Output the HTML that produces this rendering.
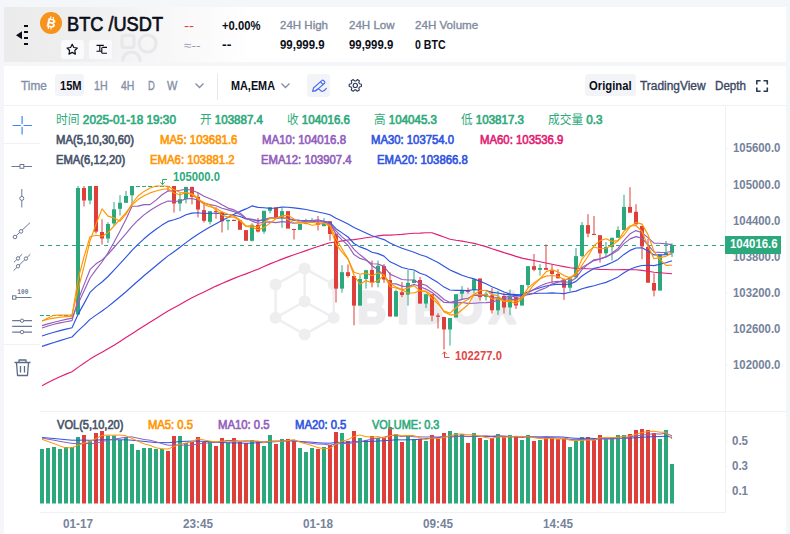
<!DOCTYPE html>
<html lang="en">
<head>
<meta charset="utf-8">
<title>BTC/USDT</title>
<style>
*{box-sizing:border-box}
html,body{margin:0;padding:0}
body{width:790px;height:534px;overflow:hidden;background:#f5f6fa;position:relative;font-family:"Liberation Sans","Noto Sans CJK SC",sans-serif}
.hdr{position:absolute;left:4px;top:7px;width:782px;height:54.5px;background:linear-gradient(90deg,#ebebec 0,#eeeeef 70px,#f7f7f8 160px,#ffffff 250px)}
.tb{position:absolute;left:4px;top:66px;width:782px;height:40px;background:#fff}
.chart{position:absolute;left:4px;top:106px;width:782px;height:428px;background:#fff}
.pill{position:absolute;background:#f3f4f8;border-radius:3px}
.wbox{position:absolute;background:#fafafc;border-radius:3px}
.t{position:absolute;white-space:nowrap;line-height:1;transform-origin:0 0}
.t i{font-style:normal;font-weight:400;-webkit-text-stroke:0}
svg.ov{position:absolute;left:0;top:0}
</style>
</head>
<body>
<div class="hdr"></div>
<div class="tb"></div>
<div class="chart"></div>
<div class="wbox" style="left:61px;top:40px;width:23px;height:19px"></div>
<div class="wbox" style="left:89px;top:40px;width:23px;height:19px"></div>
<div class="pill" style="left:55.4px;top:74.4px;width:28.2px;height:22px"></div>
<div class="pill" style="left:307px;top:74px;width:23.4px;height:23px"></div>
<div class="pill" style="left:585px;top:74.4px;width:50.6px;height:22px"></div>
<svg class="ov" width="790" height="534" viewBox="0 0 790 534">
<!-- header decoration -->
<g fill="none" stroke="#e8e8eb" stroke-width="3.200" clip-path="url(#hc)">
<rect x="122" y="35.500" width="12" height="12" rx="2"/>
<circle cx="147.600" cy="43.500" r="8.500"/><circle cx="131.400" cy="60.500" r="8.500"/>
</g>
<clipPath id="hc"><rect x="4" y="7" width="782" height="54.500"/></clipPath>
<!-- back icon -->
<path d="M16 35.200L22 31.200V39.200Z" fill="#0b0e18"/>
<g fill="#0b0e18"><rect x="24" y="25" width="4" height="2"/><rect x="24" y="31" width="4" height="2"/><rect x="24" y="37" width="4" height="2"/><rect x="24" y="43" width="4" height="2"/></g>
<!-- bitcoin -->
<circle cx="51" cy="23" r="11" fill="#f7931a"/>
<g transform="rotate(13 51 23)"><text x="51.300" y="27.400" text-anchor="middle" font-family="Liberation Sans,sans-serif" font-weight="700" font-size="12.500" fill="#fff">B</text>
<path d="M49.500 16.600v2M52.200 16.600v2M49.500 27.300v2M52.200 27.300v2" stroke="#fff" stroke-width="1.200"/></g>
<!-- star -->
<path d="M72.2 44.3L73.8 47.5L77.3 48.0L74.8 50.5L75.4 54.1L72.2 52.4L69.0 54.1L69.6 50.5L67.1 48.0L70.6 47.5Z" fill="none" stroke="#0b0e18" stroke-width="1.200" stroke-linejoin="round"/>
<!-- transfer icon -->
<g stroke="#0b0e18" stroke-width="1.100" fill="none"><path d="M96.500 45.400h7.300M96.500 51.200h5M99.800 45.400v5.800M102.300 47.400h4.700M101.800 53.200h5.200M101.800 47.400v5.800"/></g>
<!-- chevrons -->
<path d="M195.500 83.500l4 4 4-4" fill="none" stroke="#8390a8" stroke-width="1.400"/>
<path d="M281.500 83.500l4 4 4-4" fill="none" stroke="#8390a8" stroke-width="1.400"/>
<line x1="217.500" y1="74" x2="217.500" y2="100" stroke="#e6e8ee"/>
<!-- pen -->
<g fill="none" stroke="#4a6cf0" stroke-width="1.150" stroke-linejoin="round" stroke-linecap="round"><path d="M312.600 91.400l.900-3.400 8.300-7.400a1.300 1.300 0 0 1 1.800 0l.900.900a1.300 1.300 0 0 1 0 1.800l-8.400 7.300z"/><path d="M320.400 81.800l2.600 2.600"/><path d="M315.500 90.600c1.800-1.600 3.300-2.100 4.200-1s1.300 2.200 3 1.700 2.700-1.600 3.600-2.900"/></g>
<!-- gear -->
<g fill="none" stroke="#2c3853" stroke-width="1.100" stroke-linejoin="round"><circle cx="355.3" cy="85.4" r="2.100"/><path d="M361.39 84.22L361.39 86.58L359.50 87.01L358.80 88.23L359.37 90.08L357.32 91.26L356.00 89.84L354.60 89.84L353.28 91.26L351.23 90.08L351.80 88.23L351.10 87.01L349.21 86.58L349.21 84.22L351.10 83.79L351.80 82.57L351.23 80.72L353.28 79.54L354.60 80.96L356.00 80.96L357.32 79.54L359.37 80.72L358.80 82.57L359.50 83.79Z"/></g>
<!-- fullscreen -->
<g fill="none" stroke="#2c3853" stroke-width="1.600" stroke-linejoin="round"><path d="M756.800 84.500v-3.800h3.800M763.500 80.700h3.800v3.800M767.300 87.400v3.800h-3.800M760.600 91.200h-3.800v-3.800"/></g>
<!-- left tool icons -->
<g stroke="#3d85ff" stroke-width="1.200"><path d="M22.100 116v8.100M22.100 126.800v7.800M12.600 125.500h8.300M23.600 125.500h8.300"/></g>
<g stroke="#6b7a94" stroke-width="1" fill="#fff">
<path d="M11.500 166.500h20.500"/><rect x="20" y="164.500" width="3.800" height="3.800"/>
<path d="M21.800 189v18.500"/><circle cx="21.800" cy="198.400" r="2"/>
<path d="M14 237.800L30 222.700"/><circle cx="15" cy="237" r="1.800"/><circle cx="21" cy="231.400" r="1.800"/>
<path d="M13.900 262.400L22.200 254.200M13.600 270.600L30.400 254.200"/><circle cx="18" cy="258.400" r="1.700"/><circle cx="25.900" cy="258.600" r="1.700"/><circle cx="18" cy="266.200" r="1.700"/>
<path d="M15.200 297.500h16.300"/><rect x="12.500" y="295.800" width="3.400" height="3.400"/>
<path stroke-width="1.300" d="M12.200 320.700h19.800M12.200 326.400h19.800M12.200 332.100h19.800"/><circle cx="22" cy="320.700" r="1.700"/><circle cx="22" cy="332.100" r="1.700"/>
</g>
<text x="17.300" y="294.400" font-family="Liberation Mono,monospace" font-size="6.500" font-weight="700" fill="#6b7a94" textLength="11" lengthAdjust="spacingAndGlyphs">100</text>
<!-- trash -->
<g fill="none" stroke="#5b6a86" stroke-width="1.300" stroke-linejoin="round"><path d="M14.500 362.500h16M19 362.500v-2.500h7v2.500M16.500 362.500l1 13h10l1-13M20.500 366v6.500M24.500 366v6.500"/></g>

<line x1="4" y1="105.5" x2="786" y2="105.5" stroke="#eff1f5"/>
<line x1="40" y1="411.5" x2="786" y2="411.5" stroke="#eff1f5"/>
<line x1="40" y1="512.5" x2="725.5" y2="512.5" stroke="#eff1f5"/>
<line x1="725.5" y1="106" x2="725.5" y2="512.5" stroke="#eff1f5"/>
<line x1="4" y1="143.5" x2="40" y2="143.5" stroke="#eff1f5"/>
<line x1="4" y1="344.5" x2="40" y2="344.5" stroke="#eff1f5"/>
<line x1="725.5" y1="148.6" x2="728.5" y2="148.6" stroke="#f2f3f7"/>
<line x1="725.5" y1="185.8" x2="728.5" y2="185.8" stroke="#f2f3f7"/>
<line x1="725.5" y1="221.6" x2="728.5" y2="221.6" stroke="#f2f3f7"/>
<line x1="725.5" y1="257.2" x2="728.5" y2="257.2" stroke="#f2f3f7"/>
<line x1="725.5" y1="293.1" x2="728.5" y2="293.1" stroke="#f2f3f7"/>
<line x1="725.5" y1="329.5" x2="728.5" y2="329.5" stroke="#f2f3f7"/>
<line x1="725.5" y1="365.0" x2="728.5" y2="365.0" stroke="#f2f3f7"/>
<line x1="725.5" y1="441.5" x2="728.5" y2="441.5" stroke="#f2f3f7"/>
<line x1="725.5" y1="466.4" x2="728.5" y2="466.4" stroke="#f2f3f7"/>
<line x1="725.5" y1="491.4" x2="728.5" y2="491.4" stroke="#f2f3f7"/>
<g stroke="#eeeef0" stroke-width="2.4" fill="none"><polygon points="304.6,268.4 333.7,284.6 333.7,317.8 304.6,334.6 275.6,317.8 275.6,284.6"/><line x1="304.6" y1="301.5" x2="304.6" y2="268.4"/><line x1="304.6" y1="301.5" x2="333.7" y2="317.8"/><line x1="304.6" y1="301.5" x2="275.6" y2="317.8"/></g><g fill="#eeeef0"><circle cx="304.6" cy="268.4" r="6"/><circle cx="333.7" cy="284.6" r="6"/><circle cx="333.7" cy="317.8" r="6"/><circle cx="304.6" cy="334.6" r="6"/><circle cx="275.6" cy="317.8" r="6"/><circle cx="275.6" cy="284.6" r="6"/><circle cx="304.6" cy="301.5" r="6"/></g><text transform="scale(0.88 1)" x="406.4 451.6 470.8 513.3 555.8" y="323" font-family="Liberation Sans,sans-serif" font-weight="700" font-size="44.7" fill="#ececee" stroke="#ececee" stroke-width="3" stroke-linejoin="round">BIBOX</text>
<line x1="40" y1="245.5" x2="725" y2="245.5" stroke="#2ba97c" stroke-dasharray="4 4"/>
<rect x="40" y="315.0" width="4" height="1.0" fill="#2ba97c"/>
<rect x="46" y="315.0" width="4" height="1.0" fill="#2ba97c"/>
<rect x="52" y="315.0" width="4" height="1.0" fill="#2ba97c"/>
<rect x="58" y="315.0" width="4" height="1.0" fill="#2ba97c"/>
<rect x="64" y="315.0" width="4" height="1.0" fill="#2ba97c"/>
<rect x="70" y="315.0" width="4" height="1.0" fill="#2ba97c"/>
<line x1="78" y1="186.0" x2="78" y2="314.5" stroke="#2ba97c" stroke-width="1"/>
<rect x="76" y="188.0" width="4" height="126.5" fill="#2ba97c"/>
<line x1="84" y1="186.0" x2="84" y2="206.5" stroke="#de3f3b" stroke-width="1"/>
<rect x="82" y="188.0" width="4" height="12.5" fill="#de3f3b"/>
<line x1="90" y1="186.0" x2="90" y2="204.3" stroke="#2ba97c" stroke-width="1"/>
<rect x="88" y="186.0" width="4" height="14.5" fill="#2ba97c"/>
<line x1="96" y1="186.0" x2="96" y2="233.5" stroke="#de3f3b" stroke-width="1"/>
<rect x="94" y="186.0" width="4" height="45.6" fill="#de3f3b"/>
<line x1="102" y1="219.2" x2="102" y2="244.6" stroke="#de3f3b" stroke-width="1"/>
<rect x="100" y="232.0" width="4" height="6.5" fill="#de3f3b"/>
<line x1="108" y1="222.2" x2="108" y2="243.0" stroke="#2ba97c" stroke-width="1"/>
<rect x="106" y="224.0" width="4" height="14.5" fill="#2ba97c"/>
<line x1="114" y1="202.0" x2="114" y2="225.6" stroke="#2ba97c" stroke-width="1"/>
<rect x="112" y="209.3" width="4" height="14.2" fill="#2ba97c"/>
<line x1="120" y1="195.2" x2="120" y2="215.5" stroke="#2ba97c" stroke-width="1"/>
<rect x="118" y="202.8" width="4" height="6.0" fill="#2ba97c"/>
<line x1="126" y1="191.0" x2="126" y2="202.8" stroke="#2ba97c" stroke-width="1"/>
<rect x="124" y="196.0" width="4" height="6.8" fill="#2ba97c"/>
<line x1="132" y1="186.0" x2="132" y2="203.5" stroke="#2ba97c" stroke-width="1"/>
<rect x="130" y="186.0" width="4" height="9.3" fill="#2ba97c"/>
<rect x="136" y="186.0" width="4" height="1.0" fill="#2ba97c"/>
<rect x="142" y="186.0" width="4" height="1.0" fill="#2ba97c"/>
<rect x="148" y="186.0" width="4" height="1.0" fill="#2ba97c"/>
<rect x="154" y="186.0" width="4" height="1.0" fill="#2ba97c"/>
<rect x="160" y="186.0" width="4" height="1.0" fill="#2ba97c"/>
<line x1="168" y1="186.0" x2="168" y2="191.0" stroke="#de3f3b" stroke-width="1"/>
<rect x="166" y="186.0" width="4" height="1.0" fill="#de3f3b"/>
<line x1="174" y1="186.0" x2="174" y2="212.6" stroke="#de3f3b" stroke-width="1"/>
<rect x="172" y="186.0" width="4" height="17.5" fill="#de3f3b"/>
<line x1="180" y1="192.7" x2="180" y2="211.2" stroke="#2ba97c" stroke-width="1"/>
<rect x="178" y="199.2" width="4" height="4.3" fill="#2ba97c"/>
<line x1="186" y1="186.9" x2="186" y2="203.4" stroke="#2ba97c" stroke-width="1"/>
<rect x="184" y="186.9" width="4" height="12.1" fill="#2ba97c"/>
<line x1="192" y1="186.9" x2="192" y2="204.4" stroke="#de3f3b" stroke-width="1"/>
<rect x="190" y="186.9" width="4" height="9.9" fill="#de3f3b"/>
<line x1="198" y1="192.5" x2="198" y2="217.4" stroke="#de3f3b" stroke-width="1"/>
<rect x="196" y="196.8" width="4" height="12.7" fill="#de3f3b"/>
<line x1="204" y1="204.6" x2="204" y2="222.5" stroke="#de3f3b" stroke-width="1"/>
<rect x="202" y="210.1" width="4" height="10.7" fill="#de3f3b"/>
<line x1="210" y1="211.2" x2="210" y2="224.4" stroke="#2ba97c" stroke-width="1"/>
<rect x="208" y="211.2" width="4" height="10.6" fill="#2ba97c"/>
<line x1="216" y1="207.3" x2="216" y2="218.7" stroke="#de3f3b" stroke-width="1"/>
<rect x="214" y="211.1" width="4" height="1.1" fill="#de3f3b"/>
<line x1="222" y1="212.2" x2="222" y2="232.5" stroke="#de3f3b" stroke-width="1"/>
<rect x="220" y="212.2" width="4" height="9.1" fill="#de3f3b"/>
<line x1="228" y1="219.8" x2="228" y2="230.1" stroke="#2ba97c" stroke-width="1"/>
<rect x="226" y="219.8" width="4" height="1.5" fill="#2ba97c"/>
<rect x="232" y="219.8" width="4" height="1.2" fill="#de3f3b"/>
<rect x="238" y="220.3" width="4" height="9.5" fill="#de3f3b"/>
<rect x="244" y="230.1" width="4" height="10.7" fill="#de3f3b"/>
<line x1="252" y1="223.3" x2="252" y2="241.5" stroke="#2ba97c" stroke-width="1"/>
<rect x="250" y="224.8" width="4" height="16.0" fill="#2ba97c"/>
<line x1="258" y1="218.0" x2="258" y2="232.4" stroke="#de3f3b" stroke-width="1"/>
<rect x="256" y="224.8" width="4" height="6.8" fill="#de3f3b"/>
<line x1="264" y1="210.8" x2="264" y2="233.9" stroke="#2ba97c" stroke-width="1"/>
<rect x="262" y="210.8" width="4" height="20.8" fill="#2ba97c"/>
<line x1="270" y1="207.3" x2="270" y2="213.4" stroke="#2ba97c" stroke-width="1"/>
<rect x="268" y="207.3" width="4" height="3.5" fill="#2ba97c"/>
<rect x="274" y="207.3" width="4" height="11.4" fill="#de3f3b"/>
<line x1="282" y1="208.1" x2="282" y2="227.8" stroke="#2ba97c" stroke-width="1"/>
<rect x="280" y="211.1" width="4" height="6.9" fill="#2ba97c"/>
<rect x="286" y="211.1" width="4" height="17.5" fill="#de3f3b"/>
<line x1="294" y1="228.9" x2="294" y2="239.5" stroke="#de3f3b" stroke-width="1"/>
<rect x="292" y="229.0" width="4" height="1.0" fill="#de3f3b"/>
<rect x="298" y="224.0" width="4" height="5.9" fill="#2ba97c"/>
<line x1="306" y1="218.8" x2="306" y2="224.3" stroke="#2ba97c" stroke-width="1"/>
<rect x="304" y="222.5" width="4" height="1.5" fill="#2ba97c"/>
<line x1="312" y1="217.9" x2="312" y2="222.5" stroke="#2ba97c" stroke-width="1"/>
<rect x="310" y="221.0" width="4" height="1.5" fill="#2ba97c"/>
<line x1="318" y1="216.0" x2="318" y2="230.4" stroke="#de3f3b" stroke-width="1"/>
<rect x="316" y="222.8" width="4" height="2.2" fill="#de3f3b"/>
<line x1="324" y1="218.0" x2="324" y2="226.2" stroke="#2ba97c" stroke-width="1"/>
<rect x="322" y="223.8" width="4" height="2.4" fill="#2ba97c"/>
<line x1="330" y1="221.3" x2="330" y2="240.7" stroke="#de3f3b" stroke-width="1"/>
<rect x="328" y="221.3" width="4" height="12.7" fill="#de3f3b"/>
<line x1="336" y1="233.7" x2="336" y2="302.5" stroke="#de3f3b" stroke-width="1"/>
<rect x="334" y="233.7" width="4" height="54.9" fill="#de3f3b"/>
<line x1="342" y1="265.2" x2="342" y2="292.7" stroke="#2ba97c" stroke-width="1"/>
<rect x="340" y="272.2" width="4" height="16.4" fill="#2ba97c"/>
<line x1="348" y1="264.4" x2="348" y2="277.5" stroke="#de3f3b" stroke-width="1"/>
<rect x="346" y="272.2" width="4" height="3.8" fill="#de3f3b"/>
<line x1="354" y1="276.0" x2="354" y2="325.3" stroke="#de3f3b" stroke-width="1"/>
<rect x="352" y="276.0" width="4" height="29.6" fill="#de3f3b"/>
<line x1="360" y1="275.2" x2="360" y2="305.6" stroke="#2ba97c" stroke-width="1"/>
<rect x="358" y="279.0" width="4" height="26.6" fill="#2ba97c"/>
<line x1="366" y1="270.2" x2="366" y2="288.6" stroke="#2ba97c" stroke-width="1"/>
<rect x="364" y="270.2" width="4" height="8.8" fill="#2ba97c"/>
<line x1="372" y1="260.5" x2="372" y2="287.3" stroke="#de3f3b" stroke-width="1"/>
<rect x="370" y="269.9" width="4" height="12.9" fill="#de3f3b"/>
<line x1="378" y1="260.5" x2="378" y2="287.3" stroke="#2ba97c" stroke-width="1"/>
<rect x="376" y="265.8" width="4" height="17.0" fill="#2ba97c"/>
<line x1="384" y1="264.0" x2="384" y2="282.8" stroke="#de3f3b" stroke-width="1"/>
<rect x="382" y="266.0" width="4" height="13.5" fill="#de3f3b"/>
<line x1="390" y1="272.2" x2="390" y2="316.5" stroke="#de3f3b" stroke-width="1"/>
<rect x="388" y="280.0" width="4" height="36.5" fill="#de3f3b"/>
<line x1="396" y1="289.6" x2="396" y2="316.5" stroke="#2ba97c" stroke-width="1"/>
<rect x="394" y="291.1" width="4" height="25.4" fill="#2ba97c"/>
<line x1="402" y1="282.0" x2="402" y2="297.2" stroke="#de3f3b" stroke-width="1"/>
<rect x="400" y="292.2" width="4" height="2.8" fill="#de3f3b"/>
<line x1="408" y1="270.0" x2="408" y2="305.6" stroke="#2ba97c" stroke-width="1"/>
<rect x="406" y="282.8" width="4" height="11.8" fill="#2ba97c"/>
<line x1="414" y1="271.2" x2="414" y2="283.0" stroke="#2ba97c" stroke-width="1"/>
<rect x="412" y="279.8" width="4" height="3.2" fill="#2ba97c"/>
<line x1="420" y1="277.0" x2="420" y2="303.6" stroke="#de3f3b" stroke-width="1"/>
<rect x="418" y="280.0" width="4" height="23.6" fill="#de3f3b"/>
<line x1="426" y1="294.2" x2="426" y2="308.0" stroke="#2ba97c" stroke-width="1"/>
<rect x="424" y="294.2" width="4" height="9.4" fill="#2ba97c"/>
<line x1="432" y1="294.2" x2="432" y2="321.2" stroke="#de3f3b" stroke-width="1"/>
<rect x="430" y="294.2" width="4" height="21.4" fill="#de3f3b"/>
<line x1="438" y1="313.2" x2="438" y2="328.5" stroke="#de3f3b" stroke-width="1"/>
<rect x="436" y="315.5" width="4" height="1.3" fill="#de3f3b"/>
<line x1="444" y1="317.0" x2="444" y2="349.5" stroke="#de3f3b" stroke-width="1"/>
<rect x="442" y="317.0" width="4" height="12.5" fill="#de3f3b"/>
<line x1="450" y1="318.0" x2="450" y2="345.5" stroke="#2ba97c" stroke-width="1"/>
<rect x="448" y="318.0" width="4" height="11.5" fill="#2ba97c"/>
<rect x="454" y="294.2" width="4" height="23.3" fill="#2ba97c"/>
<line x1="462" y1="286.1" x2="462" y2="299.0" stroke="#2ba97c" stroke-width="1"/>
<rect x="460" y="290.2" width="4" height="3.5" fill="#2ba97c"/>
<line x1="468" y1="287.7" x2="468" y2="293.7" stroke="#de3f3b" stroke-width="1"/>
<rect x="466" y="290.0" width="4" height="1.8" fill="#de3f3b"/>
<line x1="474" y1="279.3" x2="474" y2="293.0" stroke="#2ba97c" stroke-width="1"/>
<rect x="472" y="279.3" width="4" height="10.9" fill="#2ba97c"/>
<line x1="480" y1="278.5" x2="480" y2="300.6" stroke="#de3f3b" stroke-width="1"/>
<rect x="478" y="278.5" width="4" height="18.7" fill="#de3f3b"/>
<line x1="486" y1="291.5" x2="486" y2="300.6" stroke="#2ba97c" stroke-width="1"/>
<rect x="484" y="293.7" width="4" height="3.1" fill="#2ba97c"/>
<line x1="492" y1="287.7" x2="492" y2="313.5" stroke="#de3f3b" stroke-width="1"/>
<rect x="490" y="295.3" width="4" height="15.0" fill="#de3f3b"/>
<line x1="498" y1="290.7" x2="498" y2="315.0" stroke="#2ba97c" stroke-width="1"/>
<rect x="496" y="298.3" width="4" height="12.0" fill="#2ba97c"/>
<line x1="504" y1="293.0" x2="504" y2="313.5" stroke="#de3f3b" stroke-width="1"/>
<rect x="502" y="296.0" width="4" height="11.5" fill="#de3f3b"/>
<line x1="510" y1="289.6" x2="510" y2="315.0" stroke="#2ba97c" stroke-width="1"/>
<rect x="508" y="296.8" width="4" height="10.7" fill="#2ba97c"/>
<line x1="516" y1="296.8" x2="516" y2="309.0" stroke="#de3f3b" stroke-width="1"/>
<rect x="514" y="296.8" width="4" height="8.7" fill="#de3f3b"/>
<rect x="520" y="285.0" width="4" height="20.6" fill="#2ba97c"/>
<line x1="528" y1="266.2" x2="528" y2="287.7" stroke="#2ba97c" stroke-width="1"/>
<rect x="526" y="266.2" width="4" height="18.8" fill="#2ba97c"/>
<line x1="534" y1="254.0" x2="534" y2="271.3" stroke="#de3f3b" stroke-width="1"/>
<rect x="532" y="266.2" width="4" height="3.6" fill="#de3f3b"/>
<line x1="540" y1="264.2" x2="540" y2="275.6" stroke="#2ba97c" stroke-width="1"/>
<rect x="538" y="268.0" width="4" height="1.8" fill="#2ba97c"/>
<line x1="546" y1="244.4" x2="546" y2="269.8" stroke="#de3f3b" stroke-width="1"/>
<rect x="544" y="268.0" width="4" height="1.8" fill="#de3f3b"/>
<line x1="552" y1="264.6" x2="552" y2="283.2" stroke="#de3f3b" stroke-width="1"/>
<rect x="550" y="270.3" width="4" height="3.7" fill="#de3f3b"/>
<line x1="558" y1="269.2" x2="558" y2="278.3" stroke="#de3f3b" stroke-width="1"/>
<rect x="556" y="274.0" width="4" height="4.3" fill="#de3f3b"/>
<line x1="564" y1="278.3" x2="564" y2="299.9" stroke="#de3f3b" stroke-width="1"/>
<rect x="562" y="279.4" width="4" height="8.3" fill="#de3f3b"/>
<line x1="570" y1="276.3" x2="570" y2="291.5" stroke="#2ba97c" stroke-width="1"/>
<rect x="568" y="278.6" width="4" height="9.1" fill="#2ba97c"/>
<line x1="576" y1="248.0" x2="576" y2="277.4" stroke="#2ba97c" stroke-width="1"/>
<rect x="574" y="256.1" width="4" height="21.3" fill="#2ba97c"/>
<line x1="582" y1="222.1" x2="582" y2="257.3" stroke="#2ba97c" stroke-width="1"/>
<rect x="580" y="225.1" width="4" height="31.0" fill="#2ba97c"/>
<line x1="588" y1="214.2" x2="588" y2="237.3" stroke="#de3f3b" stroke-width="1"/>
<rect x="586" y="225.1" width="4" height="8.5" fill="#de3f3b"/>
<line x1="594" y1="216.0" x2="594" y2="235.0" stroke="#de3f3b" stroke-width="1"/>
<rect x="592" y="233.9" width="4" height="1.1" fill="#de3f3b"/>
<line x1="600" y1="235.2" x2="600" y2="262.7" stroke="#de3f3b" stroke-width="1"/>
<rect x="598" y="235.2" width="4" height="18.1" fill="#de3f3b"/>
<line x1="606" y1="242.0" x2="606" y2="256.6" stroke="#2ba97c" stroke-width="1"/>
<rect x="604" y="247.1" width="4" height="6.2" fill="#2ba97c"/>
<line x1="612" y1="237.8" x2="612" y2="260.4" stroke="#2ba97c" stroke-width="1"/>
<rect x="610" y="237.8" width="4" height="9.3" fill="#2ba97c"/>
<line x1="618" y1="226.3" x2="618" y2="237.8" stroke="#2ba97c" stroke-width="1"/>
<rect x="616" y="230.0" width="4" height="7.8" fill="#2ba97c"/>
<line x1="624" y1="194.7" x2="624" y2="230.0" stroke="#2ba97c" stroke-width="1"/>
<rect x="622" y="206.9" width="4" height="23.1" fill="#2ba97c"/>
<line x1="630" y1="187.2" x2="630" y2="212.7" stroke="#de3f3b" stroke-width="1"/>
<rect x="628" y="206.9" width="4" height="5.8" fill="#de3f3b"/>
<line x1="636" y1="204.2" x2="636" y2="224.4" stroke="#de3f3b" stroke-width="1"/>
<rect x="634" y="211.8" width="4" height="12.6" fill="#de3f3b"/>
<line x1="642" y1="225.9" x2="642" y2="259.2" stroke="#de3f3b" stroke-width="1"/>
<rect x="640" y="225.9" width="4" height="20.5" fill="#de3f3b"/>
<line x1="648" y1="238.7" x2="648" y2="282.7" stroke="#de3f3b" stroke-width="1"/>
<rect x="646" y="247.0" width="4" height="35.7" fill="#de3f3b"/>
<line x1="654" y1="273.3" x2="654" y2="296.4" stroke="#de3f3b" stroke-width="1"/>
<rect x="652" y="283.0" width="4" height="7.6" fill="#de3f3b"/>
<rect x="658" y="254.6" width="4" height="36.0" fill="#2ba97c"/>
<line x1="666" y1="241.0" x2="666" y2="254.6" stroke="#2ba97c" stroke-width="1"/>
<rect x="664" y="252.9" width="4" height="1.7" fill="#2ba97c"/>
<line x1="672" y1="243.4" x2="672" y2="257.1" stroke="#2ba97c" stroke-width="1"/>
<rect x="670" y="245.1" width="4" height="7.8" fill="#2ba97c"/>
<rect x="40" y="449.0" width="4" height="54.5" fill="#2ba97c"/>
<rect x="46" y="448.0" width="4" height="55.5" fill="#2ba97c"/>
<rect x="52" y="447.0" width="4" height="56.5" fill="#2ba97c"/>
<rect x="58" y="449.0" width="4" height="54.5" fill="#2ba97c"/>
<rect x="64" y="447.0" width="4" height="56.5" fill="#2ba97c"/>
<rect x="70" y="447.0" width="4" height="56.5" fill="#2ba97c"/>
<rect x="76" y="437.0" width="4" height="66.5" fill="#2ba97c"/>
<rect x="82" y="435.0" width="4" height="68.5" fill="#de3f3b"/>
<rect x="88" y="441.0" width="4" height="62.5" fill="#2ba97c"/>
<rect x="94" y="433.0" width="4" height="70.5" fill="#de3f3b"/>
<rect x="100" y="431.0" width="4" height="72.5" fill="#de3f3b"/>
<rect x="106" y="435.6" width="4" height="67.9" fill="#2ba97c"/>
<rect x="112" y="435.6" width="4" height="67.9" fill="#2ba97c"/>
<rect x="118" y="440.0" width="4" height="63.5" fill="#2ba97c"/>
<rect x="124" y="437.0" width="4" height="66.5" fill="#2ba97c"/>
<rect x="130" y="444.0" width="4" height="59.5" fill="#2ba97c"/>
<rect x="136" y="450.0" width="4" height="53.5" fill="#2ba97c"/>
<rect x="142" y="448.0" width="4" height="55.5" fill="#2ba97c"/>
<rect x="148" y="448.0" width="4" height="55.5" fill="#2ba97c"/>
<rect x="154" y="449.0" width="4" height="54.5" fill="#2ba97c"/>
<rect x="160" y="449.0" width="4" height="54.5" fill="#2ba97c"/>
<rect x="166" y="451.0" width="4" height="52.5" fill="#de3f3b"/>
<rect x="172" y="436.0" width="4" height="67.5" fill="#de3f3b"/>
<rect x="178" y="436.0" width="4" height="67.5" fill="#2ba97c"/>
<rect x="184" y="443.0" width="4" height="60.5" fill="#2ba97c"/>
<rect x="190" y="442.0" width="4" height="61.5" fill="#de3f3b"/>
<rect x="196" y="437.0" width="4" height="66.5" fill="#de3f3b"/>
<rect x="202" y="442.0" width="4" height="61.5" fill="#de3f3b"/>
<rect x="208" y="442.0" width="4" height="61.5" fill="#2ba97c"/>
<rect x="214" y="446.0" width="4" height="57.5" fill="#de3f3b"/>
<rect x="220" y="438.0" width="4" height="65.5" fill="#de3f3b"/>
<rect x="226" y="442.0" width="4" height="61.5" fill="#2ba97c"/>
<rect x="232" y="438.0" width="4" height="65.5" fill="#de3f3b"/>
<rect x="238" y="442.0" width="4" height="61.5" fill="#de3f3b"/>
<rect x="244" y="443.0" width="4" height="60.5" fill="#de3f3b"/>
<rect x="250" y="440.0" width="4" height="63.5" fill="#2ba97c"/>
<rect x="256" y="442.0" width="4" height="61.5" fill="#de3f3b"/>
<rect x="262" y="446.0" width="4" height="57.5" fill="#2ba97c"/>
<rect x="268" y="435.0" width="4" height="68.5" fill="#2ba97c"/>
<rect x="274" y="444.0" width="4" height="59.5" fill="#de3f3b"/>
<rect x="280" y="439.0" width="4" height="64.5" fill="#2ba97c"/>
<rect x="286" y="439.0" width="4" height="64.5" fill="#de3f3b"/>
<rect x="292" y="441.0" width="4" height="62.5" fill="#de3f3b"/>
<rect x="298" y="448.0" width="4" height="55.5" fill="#2ba97c"/>
<rect x="304" y="452.0" width="4" height="51.5" fill="#2ba97c"/>
<rect x="310" y="448.0" width="4" height="55.5" fill="#2ba97c"/>
<rect x="316" y="449.0" width="4" height="54.5" fill="#de3f3b"/>
<rect x="322" y="447.0" width="4" height="56.5" fill="#2ba97c"/>
<rect x="328" y="445.0" width="4" height="58.5" fill="#de3f3b"/>
<rect x="334" y="432.0" width="4" height="71.5" fill="#de3f3b"/>
<rect x="340" y="433.0" width="4" height="70.5" fill="#2ba97c"/>
<rect x="346" y="441.0" width="4" height="62.5" fill="#de3f3b"/>
<rect x="352" y="431.0" width="4" height="72.5" fill="#de3f3b"/>
<rect x="358" y="438.0" width="4" height="65.5" fill="#2ba97c"/>
<rect x="364" y="440.0" width="4" height="63.5" fill="#2ba97c"/>
<rect x="370" y="436.0" width="4" height="67.5" fill="#de3f3b"/>
<rect x="376" y="438.0" width="4" height="65.5" fill="#2ba97c"/>
<rect x="382" y="438.0" width="4" height="65.5" fill="#de3f3b"/>
<rect x="388" y="427.0" width="4" height="76.5" fill="#de3f3b"/>
<rect x="394" y="434.0" width="4" height="69.5" fill="#2ba97c"/>
<rect x="400" y="442.0" width="4" height="61.5" fill="#de3f3b"/>
<rect x="406" y="436.0" width="4" height="67.5" fill="#2ba97c"/>
<rect x="412" y="439.0" width="4" height="64.5" fill="#2ba97c"/>
<rect x="418" y="439.0" width="4" height="64.5" fill="#de3f3b"/>
<rect x="424" y="441.0" width="4" height="62.5" fill="#2ba97c"/>
<rect x="430" y="435.0" width="4" height="68.5" fill="#de3f3b"/>
<rect x="436" y="439.0" width="4" height="64.5" fill="#de3f3b"/>
<rect x="442" y="433.0" width="4" height="70.5" fill="#de3f3b"/>
<rect x="448" y="431.0" width="4" height="72.5" fill="#2ba97c"/>
<rect x="454" y="433.0" width="4" height="70.5" fill="#2ba97c"/>
<rect x="460" y="434.0" width="4" height="69.5" fill="#2ba97c"/>
<rect x="466" y="443.0" width="4" height="60.5" fill="#de3f3b"/>
<rect x="472" y="433.0" width="4" height="70.5" fill="#2ba97c"/>
<rect x="478" y="438.0" width="4" height="65.5" fill="#de3f3b"/>
<rect x="484" y="440.0" width="4" height="63.5" fill="#2ba97c"/>
<rect x="490" y="438.0" width="4" height="65.5" fill="#de3f3b"/>
<rect x="496" y="434.0" width="4" height="69.5" fill="#2ba97c"/>
<rect x="502" y="437.0" width="4" height="66.5" fill="#de3f3b"/>
<rect x="508" y="435.0" width="4" height="68.5" fill="#2ba97c"/>
<rect x="514" y="437.0" width="4" height="66.5" fill="#de3f3b"/>
<rect x="520" y="440.0" width="4" height="63.5" fill="#2ba97c"/>
<rect x="526" y="435.0" width="4" height="68.5" fill="#2ba97c"/>
<rect x="532" y="441.0" width="4" height="62.5" fill="#de3f3b"/>
<rect x="538" y="440.0" width="4" height="63.5" fill="#2ba97c"/>
<rect x="544" y="438.0" width="4" height="65.5" fill="#de3f3b"/>
<rect x="550" y="438.0" width="4" height="65.5" fill="#de3f3b"/>
<rect x="556" y="439.0" width="4" height="64.5" fill="#de3f3b"/>
<rect x="562" y="439.0" width="4" height="64.5" fill="#de3f3b"/>
<rect x="568" y="447.0" width="4" height="56.5" fill="#2ba97c"/>
<rect x="574" y="440.0" width="4" height="63.5" fill="#2ba97c"/>
<rect x="580" y="437.0" width="4" height="66.5" fill="#2ba97c"/>
<rect x="586" y="437.0" width="4" height="66.5" fill="#de3f3b"/>
<rect x="592" y="440.0" width="4" height="63.5" fill="#de3f3b"/>
<rect x="598" y="435.0" width="4" height="68.5" fill="#de3f3b"/>
<rect x="604" y="439.0" width="4" height="64.5" fill="#2ba97c"/>
<rect x="610" y="437.0" width="4" height="66.5" fill="#2ba97c"/>
<rect x="616" y="435.0" width="4" height="68.5" fill="#2ba97c"/>
<rect x="622" y="435.0" width="4" height="68.5" fill="#2ba97c"/>
<rect x="628" y="434.0" width="4" height="69.5" fill="#de3f3b"/>
<rect x="634" y="430.0" width="4" height="73.5" fill="#de3f3b"/>
<rect x="640" y="429.0" width="4" height="74.5" fill="#de3f3b"/>
<rect x="646" y="430.0" width="4" height="73.5" fill="#de3f3b"/>
<rect x="652" y="433.0" width="4" height="70.5" fill="#de3f3b"/>
<rect x="658" y="439.0" width="4" height="64.5" fill="#2ba97c"/>
<rect x="664" y="430.0" width="4" height="73.5" fill="#2ba97c"/>
<rect x="670" y="464.0" width="4" height="39.5" fill="#2ba97c"/>
<path d="M42 385.7 L48 382.5 L54 379.5 L60 376.7 L66 374.1 L72 371.7 L78 367.4 L84 363.3 L90 359.1 L96 355.6 L102 352.3 L108 348.8 L114 345.2 L120 341.4 L126 337.6 L132 333.7 L138 329.8 L144 326.0 L150 322.2 L156 318.4 L162 314.8 L168 311.1 L174 307.8 L180 304.5 L186 301.0 L192 297.7 L198 294.7 L204 291.9 L210 289.0 L216 286.1 L222 283.5 L228 280.9 L234 278.4 L240 276.0 L246 273.9 L252 271.5 L258 269.2 L264 266.5 L270 263.9 L276 261.5 L282 259.1 L288 256.9 L294 254.8 L300 252.7 L306 250.6 L312 248.5 L318 246.5 L324 244.5 L330 242.8 L336 242.0 L342 240.9 L348 240.0 L354 239.6 L360 238.7 L366 237.8 L372 237.0 L378 235.9 L384 235.1 L390 235.1 L396 234.7 L402 234.4 L408 233.8 L414 233.3 L420 233.1 L426 232.7 L432 232.7 L438 234.9 L444 237.0 L450 239.2 L456 240.3 L462 241.1 L468 242.3 L474 243.4 L480 245.0 L486 246.6 L492 248.7 L498 250.6 L504 252.6 L510 254.4 L516 256.4 L522 258.1 L528 259.4 L534 260.5 L540 261.7 L546 263.0 L552 264.3 L558 265.5 L564 266.6 L570 267.7 L576 268.4 L582 268.5 L588 268.7 L594 269.0 L600 269.4 L606 269.5 L612 269.7 L618 269.7 L624 269.6 L630 269.7 L636 269.8 L642 270.4 L648 271.3 L654 272.3 L660 272.8 L666 273.3 L672 273.7" fill="none" stroke="#e11d74" stroke-width="1.15" stroke-linejoin="round"/>
<path d="M42 346.4 L48 344.4 L54 342.5 L60 340.6 L66 338.8 L72 337.0 L78 330.9 L84 325.4 L90 319.4 L96 315.1 L102 311.0 L108 306.6 L114 301.7 L120 296.8 L126 291.7 L132 286.3 L138 281.0 L144 275.8 L150 270.7 L156 265.7 L162 260.8 L168 255.9 L174 251.7 L180 247.3 L186 242.6 L192 238.2 L198 234.2 L204 230.6 L210 227.1 L216 223.7 L222 220.5 L228 217.4 L234 214.2 L240 211.4 L246 208.9 L252 205.9 L258 207.4 L264 207.7 L270 208.4 L276 208.0 L282 207.1 L288 207.2 L294 207.9 L300 208.6 L306 209.5 L312 210.7 L318 212.0 L324 213.2 L330 214.8 L336 218.2 L342 221.1 L348 224.1 L354 227.5 L360 230.2 L366 232.9 L372 235.8 L378 237.7 L384 239.6 L390 243.1 L396 245.8 L402 248.2 L408 250.3 L414 252.3 L420 254.7 L426 256.5 L432 259.6 L438 262.4 L444 266.3 L450 270.0 L456 272.6 L462 275.2 L468 277.3 L474 278.9 L480 281.4 L486 283.8 L492 286.7 L498 289.2 L504 292.0 L510 294.1 L516 294.6 L522 295.1 L528 294.7 L534 293.5 L540 293.2 L546 293.2 L552 292.9 L558 293.3 L564 293.6 L570 292.3 L576 291.1 L582 288.8 L588 287.1 L594 285.7 L600 284.0 L606 282.4 L612 279.8 L618 276.9 L624 272.8 L630 269.3 L636 267.0 L642 265.5 L648 265.2 L654 265.6 L660 264.2 L666 262.8 L672 260.7" fill="none" stroke="#2f54e0" stroke-width="1.15" stroke-linejoin="round"/>
<path d="M42 336.0 L48 334.0 L54 332.2 L60 330.6 L66 329.1 L72 327.7 L78 314.4 L84 303.6 L90 292.4 L96 286.6 L102 282.0 L108 276.5 L114 270.1 L120 263.7 L126 257.2 L132 250.4 L138 244.3 L144 238.8 L150 233.7 L156 229.2 L162 225.1 L168 221.4 L174 219.7 L180 217.8 L186 214.8 L192 213.1 L198 212.8 L204 213.5 L210 213.3 L216 213.2 L222 214.0 L228 214.5 L234 215.2 L240 216.5 L246 218.9 L252 219.4 L258 220.6 L264 219.7 L270 218.5 L276 218.5 L282 217.8 L288 218.8 L294 219.9 L300 220.3 L306 220.5 L312 220.5 L318 221.0 L324 221.2 L330 222.4 L336 228.7 L342 232.9 L348 237.0 L354 243.5 L360 246.9 L366 249.1 L372 252.3 L378 253.6 L384 256.1 L390 261.8 L396 264.6 L402 267.5 L408 269.0 L414 270.0 L420 273.2 L426 275.2 L432 279.0 L438 282.6 L444 287.1 L450 290.0 L456 290.4 L462 290.4 L468 290.6 L474 289.5 L480 290.2 L486 290.5 L492 292.4 L498 293.0 L504 294.4 L510 294.6 L516 295.6 L522 294.6 L528 291.9 L534 289.8 L540 287.7 L546 286.0 L552 284.9 L558 284.3 L564 284.6 L570 284.0 L576 281.4 L582 276.0 L588 272.0 L594 268.4 L600 267.0 L606 265.1 L612 262.5 L618 259.4 L624 254.4 L630 250.4 L636 248.0 L642 247.8 L648 251.1 L654 254.9 L660 254.9 L666 254.7 L672 253.8" fill="none" stroke="#2f54e0" stroke-width="1.15" stroke-linejoin="round"/>
<path d="M42 325.6 L48 323.9 L54 322.2 L60 320.8 L66 319.4 L72 318.1 L78 303.9 L84 291.0 L90 278.0 L96 269.6 L102 262.0 L108 252.9 L114 242.3 L120 231.1 L126 219.2 L132 206.3 L138 206.1 L144 204.6 L150 204.6 L156 200.1 L162 194.8 L168 191.1 L174 190.5 L180 190.2 L186 189.3 L192 190.3 L198 192.7 L204 196.2 L210 198.7 L216 201.3 L222 204.8 L228 208.1 L234 209.9 L240 212.9 L246 218.3 L252 221.1 L258 223.3 L264 222.3 L270 221.9 L276 222.6 L282 221.6 L288 222.4 L294 223.3 L300 222.8 L306 220.9 L312 220.5 L318 219.9 L324 221.2 L330 223.8 L336 230.8 L342 236.9 L348 241.7 L354 249.3 L360 254.8 L366 259.5 L372 265.7 L378 269.8 L384 275.4 L390 283.6 L396 283.9 L402 286.1 L408 286.8 L414 284.2 L420 286.7 L426 289.1 L432 292.4 L438 297.5 L444 302.5 L450 302.6 L456 302.9 L462 302.5 L468 303.4 L474 303.3 L480 302.7 L486 302.6 L492 302.1 L498 300.2 L504 298.1 L510 295.9 L516 297.1 L522 296.5 L528 294.0 L534 293.0 L540 290.1 L546 287.7 L552 284.1 L558 282.1 L564 280.1 L570 278.3 L576 273.4 L582 267.4 L588 264.1 L594 260.6 L600 259.1 L606 256.9 L612 253.3 L618 248.4 L624 240.3 L630 233.8 L636 230.6 L642 232.7 L648 237.6 L654 243.2 L660 243.3 L666 243.9 L672 244.6" fill="none" stroke="#935ebd" stroke-width="1.15" stroke-linejoin="round"/>
<path d="M42 328.0 L48 326.0 L54 324.3 L60 322.9 L66 321.7 L72 320.6 L78 300.2 L84 284.9 L90 269.7 L96 263.8 L102 259.9 L108 254.4 L114 247.5 L120 240.6 L126 233.7 L132 226.4 L138 220.2 L144 214.9 L150 210.5 L156 206.7 L162 203.5 L168 201.0 L174 201.4 L180 201.0 L186 198.9 L192 198.5 L198 200.2 L204 203.4 L210 204.6 L216 205.8 L222 208.2 L228 209.9 L234 211.6 L240 214.4 L246 218.5 L252 219.5 L258 221.3 L264 219.7 L270 217.8 L276 217.9 L282 216.9 L288 218.7 L294 220.4 L300 221.0 L306 221.2 L312 221.2 L318 221.8 L324 222.1 L330 223.9 L336 233.9 L342 239.8 L348 245.3 L354 254.6 L360 258.4 L366 260.2 L372 263.7 L378 264.0 L384 266.4 L390 274.1 L396 276.7 L402 279.5 L408 280.0 L414 280.0 L420 283.6 L426 285.2 L432 289.9 L438 294.1 L444 299.5 L450 302.4 L456 301.1 L462 299.4 L468 298.2 L474 295.3 L480 295.6 L486 295.3 L492 297.6 L498 297.7 L504 299.2 L510 298.9 L516 299.9 L522 297.6 L528 292.8 L534 289.2 L540 286.0 L546 283.5 L552 282.0 L558 281.4 L564 282.4 L570 281.8 L576 277.9 L582 269.7 L588 264.2 L594 259.7 L600 258.7 L606 256.9 L612 254.0 L618 250.3 L624 243.6 L630 238.9 L636 236.6 L642 238.1 L648 245.0 L654 252.0 L660 252.4 L666 252.5 L672 251.3" fill="none" stroke="#935ebd" stroke-width="1.15" stroke-linejoin="round"/>
<path d="M42 321.1 L48 318.1 L54 315.3 L60 315.1 L66 315.0 L72 315.0 L78 289.6 L84 266.7 L90 240.9 L96 224.2 L102 208.9 L108 216.1 L114 217.9 L120 221.2 L126 214.1 L132 203.6 L138 196.0 L144 191.4 L150 188.0 L156 186.0 L162 186.0 L168 186.2 L174 189.7 L180 192.3 L186 192.5 L192 194.7 L198 199.2 L204 202.6 L210 205.0 L216 210.1 L222 215.0 L228 217.1 L234 217.1 L240 220.8 L246 226.5 L252 227.2 L258 229.6 L264 227.6 L270 223.1 L276 218.6 L282 215.9 L288 215.3 L294 219.1 L300 222.4 L306 223.2 L312 225.2 L318 224.5 L324 223.3 L330 225.3 L336 238.5 L342 248.7 L348 258.9 L354 275.3 L360 284.3 L366 280.6 L372 282.7 L378 280.7 L384 275.5 L390 283.0 L396 287.1 L402 289.6 L408 293.0 L414 293.0 L420 290.5 L426 291.1 L432 295.2 L438 302.0 L444 311.9 L450 314.8 L456 314.8 L462 309.7 L468 304.7 L474 294.7 L480 290.5 L486 290.4 L492 294.5 L498 295.8 L504 301.4 L510 301.3 L516 303.7 L522 298.6 L528 292.2 L534 284.7 L540 278.9 L546 271.8 L552 269.6 L558 272.0 L564 275.6 L570 277.7 L576 274.9 L582 265.2 L588 256.2 L594 245.7 L600 240.6 L606 238.8 L612 241.4 L618 240.6 L624 235.0 L630 226.9 L636 222.4 L642 224.1 L648 234.6 L654 251.4 L660 259.7 L666 265.4 L672 265.2" fill="none" stroke="#ff9600" stroke-width="1.15" stroke-linejoin="round"/>
<path d="M42 321.0 L48 319.3 L54 318.1 L60 317.2 L66 316.6 L72 316.1 L78 279.5 L84 256.9 L90 236.7 L96 235.2 L102 236.2 L108 232.7 L114 226.0 L120 219.4 L126 212.7 L132 205.1 L138 199.6 L144 195.7 L150 192.9 L156 191.0 L162 189.5 L168 188.8 L174 193.0 L180 194.8 L186 192.5 L192 193.7 L198 198.2 L204 204.7 L210 206.6 L216 208.2 L222 211.9 L228 214.2 L234 216.1 L240 220.0 L246 226.0 L252 225.6 L258 227.3 L264 222.6 L270 218.2 L276 218.4 L282 216.3 L288 219.8 L294 222.7 L300 223.0 L306 222.9 L312 222.3 L318 223.1 L324 223.3 L330 226.4 L336 244.1 L342 252.2 L348 259.0 L354 272.3 L360 274.2 L366 273.1 L372 275.8 L378 273.0 L384 274.8 L390 286.7 L396 288.0 L402 290.0 L408 287.9 L414 285.6 L420 290.8 L426 291.7 L432 298.6 L438 303.8 L444 311.1 L450 313.1 L456 307.7 L462 302.7 L468 299.6 L474 293.8 L480 294.8 L486 294.5 L492 299.0 L498 298.8 L504 301.3 L510 300.0 L516 301.6 L522 296.8 L528 288.1 L534 282.9 L540 278.6 L546 276.1 L552 275.5 L558 276.3 L564 279.6 L570 279.3 L576 272.7 L582 259.1 L588 251.8 L594 247.0 L600 248.8 L606 248.3 L612 245.3 L618 240.9 L624 231.2 L630 225.9 L636 225.5 L642 231.5 L648 246.1 L654 258.8 L660 257.6 L666 256.3 L672 253.1" fill="none" stroke="#ff9600" stroke-width="1.15" stroke-linejoin="round"/>
<path d="M42 437.5 L48 438.0 L54 438.5 L60 439.1 L66 439.7 L72 440.2 L78 440.2 L84 440.1 L90 440.3 L96 440.1 L102 439.8 L108 439.7 L114 439.7 L120 439.8 L126 439.8 L132 440.2 L138 440.8 L144 441.4 L150 442.0 L156 442.6 L162 442.6 L168 442.7 L174 442.2 L180 441.5 L186 441.3 L192 441.1 L198 441.1 L204 441.4 L210 441.5 L216 442.1 L222 442.5 L228 442.8 L234 442.9 L240 443.0 L246 443.3 L252 443.1 L258 442.7 L264 442.6 L270 441.9 L276 441.7 L282 441.2 L288 440.6 L294 440.9 L300 441.4 L306 441.9 L312 442.2 L318 442.8 L324 443.1 L330 443.2 L336 442.5 L342 442.2 L348 442.2 L354 441.9 L360 441.6 L366 441.5 L372 441.3 L378 441.1 L384 440.7 L390 440.3 L396 439.8 L402 439.9 L408 439.8 L414 439.7 L420 439.2 L426 438.7 L432 438.1 L438 437.6 L444 436.9 L450 436.1 L456 436.2 L462 436.2 L468 436.4 L474 436.4 L480 436.4 L486 436.4 L492 436.6 L498 436.4 L504 436.3 L510 436.7 L516 436.9 L522 436.8 L528 436.7 L534 436.8 L540 436.9 L546 436.7 L552 436.9 L558 436.9 L564 437.1 L570 437.9 L576 438.3 L582 438.4 L588 438.1 L594 438.5 L600 438.4 L606 438.3 L612 438.2 L618 438.3 L624 438.2 L630 438.1 L636 437.8 L642 437.2 L648 437.0 L654 436.6 L660 436.6 L666 436.1 L672 437.4" fill="none" stroke="#2f54e0" stroke-width="1" stroke-linejoin="round"/>
<path d="M42 438.1 L48 439.2 L54 440.2 L60 441.4 L66 442.4 L72 443.4 L78 443.5 L84 443.3 L90 443.7 L96 443.3 L102 441.5 L108 440.3 L114 439.1 L120 438.2 L126 437.2 L132 436.9 L138 438.2 L144 439.5 L150 440.2 L156 441.8 L162 443.6 L168 445.2 L174 445.2 L180 444.8 L186 445.4 L192 445.2 L198 443.9 L204 443.3 L210 442.7 L216 442.4 L222 441.3 L228 440.4 L234 440.6 L240 441.2 L246 441.2 L252 441.0 L258 441.5 L264 441.9 L270 441.2 L276 441.0 L282 441.1 L288 440.8 L294 441.1 L300 441.7 L306 442.6 L312 443.4 L318 444.1 L324 444.2 L330 445.2 L336 444.0 L342 443.4 L348 443.6 L354 442.6 L360 441.6 L366 440.4 L372 439.2 L378 438.1 L384 437.2 L390 435.4 L396 435.6 L402 436.5 L408 436.0 L414 436.8 L420 436.9 L426 437.0 L432 436.9 L438 437.0 L444 436.5 L450 436.9 L456 436.8 L462 436.0 L468 436.7 L474 436.1 L480 436.0 L486 435.9 L492 436.2 L498 435.7 L504 436.1 L510 436.5 L516 436.9 L522 437.5 L528 436.7 L534 437.5 L540 437.7 L546 437.5 L552 437.5 L558 438.0 L564 438.2 L570 439.4 L576 439.7 L582 439.4 L588 439.6 L594 439.5 L600 439.0 L606 439.1 L612 439.0 L618 438.6 L624 438.2 L630 436.9 L636 435.9 L642 435.1 L648 434.4 L654 433.7 L660 434.1 L666 433.2 L672 435.9" fill="none" stroke="#935ebd" stroke-width="1" stroke-linejoin="round"/>
<path d="M42 439.3 L48 441.5 L54 443.6 L60 446.0 L66 448.0 L72 447.6 L78 445.4 L84 443.0 L90 441.4 L96 438.6 L102 435.4 L108 435.1 L114 435.2 L120 435.0 L126 435.8 L132 438.4 L138 441.3 L144 443.8 L150 445.4 L156 447.8 L162 448.8 L168 449.0 L174 446.6 L180 444.2 L186 443.0 L192 441.6 L198 438.8 L204 440.0 L210 441.2 L216 441.8 L222 441.0 L228 442.0 L234 441.2 L240 441.2 L246 440.6 L252 441.0 L258 441.0 L264 442.6 L270 441.2 L276 441.4 L282 441.2 L288 440.6 L294 439.6 L300 442.2 L306 443.8 L312 445.6 L318 447.6 L324 448.8 L330 448.2 L336 444.2 L342 441.2 L348 439.6 L354 436.4 L360 435.0 L366 436.6 L372 437.2 L378 436.6 L384 438.0 L390 435.8 L396 434.6 L402 435.8 L408 435.4 L414 435.6 L420 438.0 L426 439.4 L432 438.0 L438 438.6 L444 437.4 L450 435.8 L456 434.2 L462 434.0 L468 434.8 L474 434.8 L480 436.2 L486 437.6 L492 438.4 L498 436.6 L504 437.4 L510 436.8 L516 436.2 L522 436.6 L528 436.8 L534 437.6 L540 438.6 L546 438.8 L552 438.4 L558 439.2 L564 438.8 L570 440.2 L576 440.6 L582 440.4 L588 440.0 L594 440.2 L600 437.8 L606 437.6 L612 437.6 L618 437.2 L624 436.2 L630 436.0 L636 434.2 L642 432.6 L648 431.6 L654 431.2 L660 432.2 L666 432.2 L672 439.2" fill="none" stroke="#ff9600" stroke-width="1" stroke-linejoin="round"/>
<path d="M167 179.5H162.5V184.5M160.3 182.3L162.5 184.7L164.7 182.3" fill="none" stroke="#2ba97c" stroke-width="1"/>
<path d="M449.5 357.5H444.5V352M442.3 354.2L444.5 351.8L446.7 354.2" fill="none" stroke="#e04848" stroke-width="1"/>
</svg>
<span class="t" style="left:67.0px;top:13.7px;font-size:20.4px;font-weight:400;color:#0b0e18;transform:scaleX(0.8920);-webkit-text-stroke:0.7px #0b0e18;">BTC /USDT</span>
<span class="t" style="left:184.0px;top:19.8px;font-size:12px;font-weight:400;color:#e03e3e;transform:scaleX(1.2500);">--</span>
<span class="t" style="left:184.4px;top:40.5px;font-size:10px;font-weight:400;color:#8d95a8;transform:scaleX(1.3656);">≈--</span>
<span class="t" style="left:221.6px;top:19.8px;font-size:12px;font-weight:700;color:#0b0e18;transform:scaleX(0.9355);">+0.00%</span>
<span class="t" style="left:221.6px;top:38.8px;font-size:12px;font-weight:700;color:#0b0e18;transform:scaleX(1.1750);">--</span>
<span class="t" style="left:280.4px;top:19.7px;font-size:11.5px;font-weight:400;color:#7f8aa0;transform:scaleX(1.0010);-webkit-text-stroke:0.35px #7f8aa0;">24H High</span>
<span class="t" style="left:280.4px;top:38.8px;font-size:12px;font-weight:700;color:#0b0e18;transform:scaleX(0.9546);">99,999.9</span>
<span class="t" style="left:349.4px;top:19.7px;font-size:11.5px;font-weight:400;color:#7f8aa0;transform:scaleX(1.0046);-webkit-text-stroke:0.35px #7f8aa0;">24H Low</span>
<span class="t" style="left:349.4px;top:38.8px;font-size:12px;font-weight:700;color:#0b0e18;transform:scaleX(0.9461);">99,999.9</span>
<span class="t" style="left:415.2px;top:19.7px;font-size:11.5px;font-weight:400;color:#7f8aa0;transform:scaleX(1.0087);-webkit-text-stroke:0.35px #7f8aa0;">24H Volume</span>
<span class="t" style="left:415.2px;top:38.8px;font-size:12px;font-weight:700;color:#0b0e18;transform:scaleX(0.8826);">0 BTC</span>
<span class="t" style="left:20.6px;top:79.9px;font-size:12px;font-weight:400;color:#8390a8;transform:scaleX(0.9834);-webkit-text-stroke:0.35px #8390a8;">Time</span>
<span class="t" style="left:60.0px;top:79.9px;font-size:12px;font-weight:700;color:#0b0e18;transform:scaleX(0.9253);">15M</span>
<span class="t" style="left:94.4px;top:79.9px;font-size:12px;font-weight:400;color:#8390a8;transform:scaleX(0.8864);-webkit-text-stroke:0.35px #8390a8;">1H</span>
<span class="t" style="left:120.6px;top:79.9px;font-size:12px;font-weight:400;color:#8390a8;transform:scaleX(0.8733);-webkit-text-stroke:0.35px #8390a8;">4H</span>
<span class="t" style="left:147.6px;top:79.9px;font-size:12px;font-weight:400;color:#8390a8;transform:scaleX(0.7841);-webkit-text-stroke:0.35px #8390a8;">D</span>
<span class="t" style="left:167.0px;top:79.9px;font-size:12px;font-weight:400;color:#8390a8;transform:scaleX(0.9181);-webkit-text-stroke:0.35px #8390a8;">W</span>
<span class="t" style="left:231.0px;top:79.9px;font-size:12px;font-weight:700;color:#0b0e18;transform:scaleX(0.9040);">MA,EMA</span>
<span class="t" style="left:589.4px;top:79.9px;font-size:12px;font-weight:700;color:#0b0e18;transform:scaleX(0.9395);">Original</span>
<span class="t" style="left:640.4px;top:79.9px;font-size:12px;font-weight:400;color:#3a4763;transform:scaleX(0.9932);-webkit-text-stroke:0.35px #3a4763;">TradingView</span>
<span class="t" style="left:714.6px;top:79.9px;font-size:12px;font-weight:400;color:#3a4763;transform:scaleX(0.9678);-webkit-text-stroke:0.35px #3a4763;">Depth</span>
<span class="t" style="left:56.4px;top:113.6px;font-size:12.4px;font-weight:400;color:#2eaa7c;transform:scaleX(0.9519);-webkit-text-stroke:0.65px #2eaa7c;"><i>时间</i> 2025-01-18 19:30</span>
<span class="t" style="left:200.0px;top:113.6px;font-size:12.4px;font-weight:400;color:#2eaa7c;transform:scaleX(0.9331);-webkit-text-stroke:0.65px #2eaa7c;"><i>开</i> 103887.4</span>
<span class="t" style="left:287.0px;top:113.6px;font-size:12.4px;font-weight:400;color:#2eaa7c;transform:scaleX(0.9331);-webkit-text-stroke:0.65px #2eaa7c;"><i>收</i> 104016.6</span>
<span class="t" style="left:374.0px;top:113.6px;font-size:12.4px;font-weight:400;color:#2eaa7c;transform:scaleX(0.9331);-webkit-text-stroke:0.65px #2eaa7c;"><i>高</i> 104045.3</span>
<span class="t" style="left:461.0px;top:113.6px;font-size:12.4px;font-weight:400;color:#2eaa7c;transform:scaleX(0.9331);-webkit-text-stroke:0.65px #2eaa7c;"><i>低</i> 103817.3</span>
<span class="t" style="left:548.0px;top:113.6px;font-size:12.4px;font-weight:400;color:#2eaa7c;transform:scaleX(0.9439);-webkit-text-stroke:0.65px #2eaa7c;"><i>成交量</i> 0.3</span>
<span class="t" style="left:56.4px;top:133.6px;font-size:12.4px;font-weight:400;color:#46536a;transform:scaleX(0.9133);-webkit-text-stroke:0.65px #46536a;">MA(5,10,30,60)</span>
<span class="t" style="left:159.6px;top:133.6px;font-size:12.4px;font-weight:400;color:#ff9600;transform:scaleX(0.9209);-webkit-text-stroke:0.65px #ff9600;">MA5: 103681.6</span>
<span class="t" style="left:261.6px;top:133.6px;font-size:12.4px;font-weight:400;color:#935ebd;transform:scaleX(0.9237);-webkit-text-stroke:0.65px #935ebd;">MA10: 104016.8</span>
<span class="t" style="left:371.0px;top:133.6px;font-size:12.4px;font-weight:400;color:#2f54e0;transform:scaleX(0.9127);-webkit-text-stroke:0.65px #2f54e0;">MA30: 103754.0</span>
<span class="t" style="left:479.6px;top:133.6px;font-size:12.4px;font-weight:400;color:#e11d74;transform:scaleX(0.9171);-webkit-text-stroke:0.65px #e11d74;">MA60: 103536.9</span>
<span class="t" style="left:56.4px;top:153.6px;font-size:12.4px;font-weight:400;color:#46536a;transform:scaleX(0.9051);-webkit-text-stroke:0.65px #46536a;">EMA(6,12,20)</span>
<span class="t" style="left:150.4px;top:153.6px;font-size:12.4px;font-weight:400;color:#ff9600;transform:scaleX(0.9165);-webkit-text-stroke:0.65px #ff9600;">EMA6: 103881.2</span>
<span class="t" style="left:261.0px;top:153.6px;font-size:12.4px;font-weight:400;color:#935ebd;transform:scaleX(0.9133);-webkit-text-stroke:0.65px #935ebd;">EMA12: 103907.4</span>
<span class="t" style="left:376.6px;top:153.6px;font-size:12.4px;font-weight:400;color:#2f54e0;transform:scaleX(0.9153);-webkit-text-stroke:0.65px #2f54e0;">EMA20: 103866.8</span>
<span class="t" style="left:56.6px;top:418.6px;font-size:12.4px;font-weight:400;color:#46536a;transform:scaleX(0.8926);-webkit-text-stroke:0.65px #46536a;">VOL(5,10,20)</span>
<span class="t" style="left:148.0px;top:418.6px;font-size:12.4px;font-weight:400;color:#ff9600;transform:scaleX(0.9074);-webkit-text-stroke:0.65px #ff9600;">MA5: 0.5</span>
<span class="t" style="left:218.0px;top:418.6px;font-size:12.4px;font-weight:400;color:#935ebd;transform:scaleX(0.9135);-webkit-text-stroke:0.65px #935ebd;">MA10: 0.5</span>
<span class="t" style="left:295.0px;top:418.6px;font-size:12.4px;font-weight:400;color:#2f54e0;transform:scaleX(0.9100);-webkit-text-stroke:0.65px #2f54e0;">MA20: 0.5</span>
<span class="t" style="left:371.6px;top:418.6px;font-size:12.4px;font-weight:400;color:#2eaa7c;transform:scaleX(0.8818);-webkit-text-stroke:0.65px #2eaa7c;">VOLUME: 0.3</span>
<span class="t" style="left:173.0px;top:171.4px;font-size:12.5px;font-weight:700;color:#2eaa7c;transform:scaleX(0.9014);">105000.0</span>
<span class="t" style="left:455.0px;top:349.5px;font-size:12px;font-weight:700;color:#e04848;transform:scaleX(0.9388);">102277.0</span>
<span class="t" style="left:732.6px;top:142.2px;font-size:12px;font-weight:700;color:#76839b;transform:scaleX(0.9468);">105600.0</span>
<span class="t" style="left:732.6px;top:179.4px;font-size:12px;font-weight:700;color:#76839b;transform:scaleX(0.9468);">105000.0</span>
<span class="t" style="left:732.6px;top:215.2px;font-size:12px;font-weight:700;color:#76839b;transform:scaleX(0.9468);">104400.0</span>
<span class="t" style="left:732.6px;top:250.8px;font-size:12px;font-weight:700;color:#76839b;transform:scaleX(0.9468);">103800.0</span>
<span class="t" style="left:732.6px;top:286.7px;font-size:12px;font-weight:700;color:#76839b;transform:scaleX(0.9468);">103200.0</span>
<span class="t" style="left:732.6px;top:323.1px;font-size:12px;font-weight:700;color:#76839b;transform:scaleX(0.9468);">102600.0</span>
<span class="t" style="left:732.6px;top:358.6px;font-size:12px;font-weight:700;color:#76839b;transform:scaleX(0.9468);">102000.0</span>
<span class="t" style="left:732.0px;top:434.8px;font-size:12px;font-weight:700;color:#76839b;transform:scaleX(0.9588);">0.5</span>
<span class="t" style="left:732.0px;top:459.6px;font-size:12px;font-weight:700;color:#76839b;transform:scaleX(0.9588);">0.3</span>
<span class="t" style="left:732.0px;top:484.6px;font-size:12px;font-weight:700;color:#76839b;transform:scaleX(0.9588);">0.1</span>
<span class="t" style="left:63.0px;top:517.5px;font-size:12px;font-weight:700;color:#76839b;transform:scaleX(0.9771);">01-17</span>
<span class="t" style="left:183.0px;top:517.5px;font-size:12px;font-weight:700;color:#76839b;transform:scaleX(0.9771);">23:45</span>
<span class="t" style="left:303.0px;top:517.5px;font-size:12px;font-weight:700;color:#76839b;transform:scaleX(0.9771);">01-18</span>
<span class="t" style="left:423.0px;top:517.5px;font-size:12px;font-weight:700;color:#76839b;transform:scaleX(0.9771);">09:45</span>
<span class="t" style="left:543.0px;top:517.5px;font-size:12px;font-weight:700;color:#76839b;transform:scaleX(0.9771);">14:45</span>
<span class="t" style="left:729.8px;top:237.6px;font-size:12px;font-weight:700;color:#ffffff;transform:scaleX(0.9508);z-index:5;">104016.6</span>
<div style="position:absolute;left:725px;top:236px;width:56px;height:17.5px;background:#2ba97c;z-index:4"></div>
</body>
</html>
